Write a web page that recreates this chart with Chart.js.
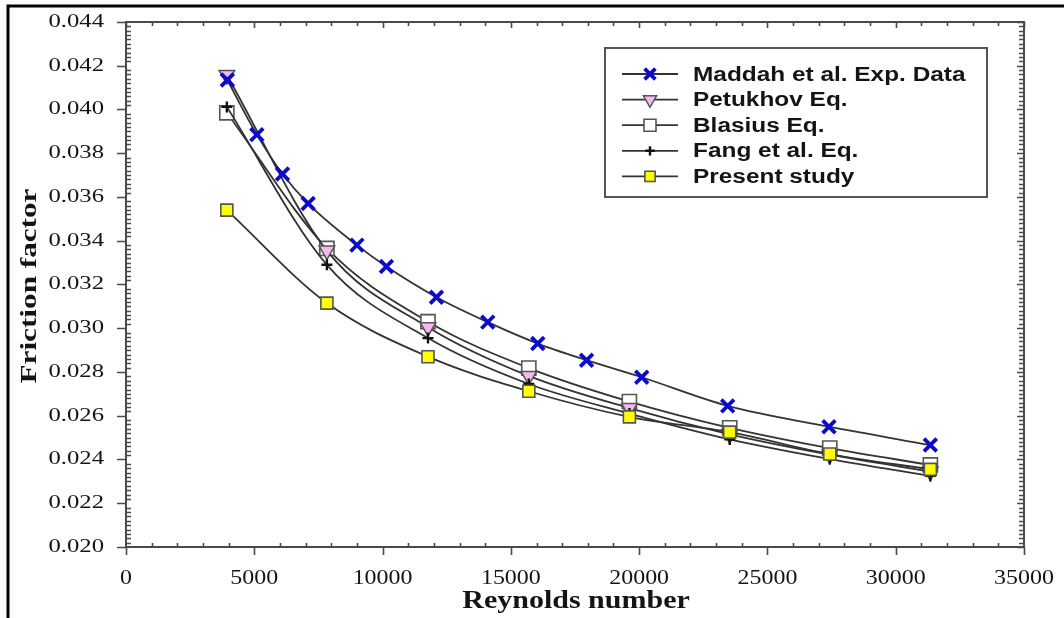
<!DOCTYPE html>
<html>
<head>
<meta charset="utf-8">
<script src="https://cdn.jsdelivr.net/npm/chart.js@4/dist/chart.umd.min.js"></script>
<style>
  html, body { margin: 0; padding: 0; background: #fff; }
  #wrap { width: 1064px; height: 618px; position: relative; }
</style>
</head>
<body>
<div id="wrap"><canvas id="c" width="1064" height="618"></canvas></div>
<script>
// ---- data ----
const reMaddah = [3950, 5100, 6100, 7100, 9000, 10150, 12100, 14100, 16050, 17950, 20100, 23450, 27400, 31350];
const fMaddah  = [0.04135, 0.03885, 0.03705, 0.03570, 0.03380, 0.03282, 0.03142, 0.03028, 0.02930, 0.02854, 0.02776, 0.02645, 0.02550, 0.02466];

const reModel   = [3930, 7830, 11770, 15700, 19620, 23530, 27430, 31350];
const fPetukhov = [0.04158, 0.03355, 0.03005, 0.02782, 0.02635, 0.02515, 0.02422, 0.02345];
const fBlasius  = [0.03985, 0.03365, 0.03030, 0.02818, 0.02665, 0.02545, 0.02452, 0.02375];
const fFang     = [0.04012, 0.03290, 0.02955, 0.02745, 0.02610, 0.02492, 0.02402, 0.02325];
const fPresent  = [0.03540, 0.03115, 0.02870, 0.02712, 0.02595, 0.02525, 0.02425, 0.02355];

const seriesNames = ["Maddah et al. Exp. Data", "Petukhov Eq.", "Blasius Eq.", "Fang et al. Eq.", "Present study"];
const xTicks = [0, 5000, 10000, 15000, 20000, 25000, 30000, 35000];
const yTicks = [0.020, 0.022, 0.024, 0.026, 0.028, 0.030, 0.032, 0.034, 0.036, 0.038, 0.040, 0.042, 0.044];
const xTitle = "Reynolds number";
const yTitle = "Friction factor";

// ---- helpers ----
const pts = (xs, ys) => xs.map((x, i) => ({ x: x, y: ys[i] }));
const LINE = '#333333';

const styles = [
  { pointStyle: 'crossRot', radius: 9, fill: '#0c0cc8', stroke: '#0c0cc8', bw: 3.8, rot: 0 },
  { pointStyle: 'triangle', radius: 9, fill: '#f6b6ee', stroke: '#555555', bw: 1.5, rot: 180 },
  { pointStyle: 'rect', radius: 10, fill: '#ffffff', stroke: '#555555', bw: 1.6, rot: 0 },
  { pointStyle: 'cross', radius: 5.5, fill: '#111111', stroke: '#111111', bw: 2.4, rot: 0 },
  { pointStyle: 'rect', radius: 8.5, fill: '#ffff00', stroke: '#555555', bw: 1.6, rot: 0 }
];
const dataSets = [pts(reMaddah, fMaddah), pts(reModel, fPetukhov), pts(reModel, fBlasius), pts(reModel, fFang), pts(reModel, fPresent)];
const orders = [0, 3, 4, 2, 1];

const datasets = dataSets.map((d, i) => ({
  label: seriesNames[i],
  data: d,
  showLine: true,
  borderColor: LINE,
  borderWidth: 1.8,
  tension: 0.4,
  cubicInterpolationMode: 'monotone',
  pointStyle: styles[i].pointStyle,
  pointRadius: styles[i].radius,
  pointRotation: styles[i].rot,
  pointBackgroundColor: styles[i].fill,
  pointBorderColor: styles[i].stroke,
  pointBorderWidth: styles[i].bw,
  order: orders[i]
}));

function txt(ctx, s, x, y, font, sx, align, baseline, rot) {
  ctx.save();
  ctx.translate(x, y);
  if (rot) ctx.rotate(rot);
  ctx.scale(sx, 1);
  ctx.font = font;
  ctx.textAlign = align;
  ctx.textBaseline = baseline;
  ctx.fillStyle = '#141414';
  ctx.fillText(s, 0, 0);
  ctx.restore();
}

function marker(ctx, st, x, y, scale) {
  const r = st.radius * scale;
  ctx.save();
  ctx.fillStyle = st.fill;
  ctx.strokeStyle = st.stroke;
  ctx.lineWidth = st.bw;
  ctx.beginPath();
  if (st.pointStyle === 'crossRot') {
    const o = r * Math.SQRT1_2;
    ctx.moveTo(x - o, y - o); ctx.lineTo(x + o, y + o);
    ctx.moveTo(x + o, y - o); ctx.lineTo(x - o, y + o);
    ctx.stroke();
  } else if (st.pointStyle === 'cross') {
    ctx.moveTo(x - r, y); ctx.lineTo(x + r, y);
    ctx.moveTo(x, y - r); ctx.lineTo(x, y + r);
    ctx.stroke();
  } else if (st.pointStyle === 'triangle') {
    const w = r * Math.sqrt(3) / 2;
    ctx.moveTo(x - w, y - r / 2); ctx.lineTo(x + w, y - r / 2); ctx.lineTo(x, y + r);
    ctx.closePath(); ctx.fill(); ctx.stroke();
  } else {
    const s = r * Math.SQRT1_2;
    ctx.rect(x - s, y - s, 2 * s, 2 * s);
    ctx.fill(); ctx.stroke();
  }
  ctx.restore();
}

const decor = {
  id: 'decor',
  beforeDraw(chart) {
    const ctx = chart.ctx;
    ctx.save();
    ctx.fillStyle = '#fff';
    ctx.fillRect(0, 0, chart.width, chart.height);
    ctx.restore();
  },
  afterDraw(chart) {
    const ctx = chart.ctx;
    const a = chart.chartArea;
    const xs = chart.scales.x, ys = chart.scales.y;
    ctx.save();
    // outer picture border (top and left)
    ctx.strokeStyle = '#000';
    ctx.lineWidth = 3;
    ctx.beginPath();
    ctx.moveTo(8, 618); ctx.lineTo(8, 6); ctx.lineTo(1064, 6);
    ctx.stroke();

    // plot frame
    ctx.strokeStyle = '#4a4a4a';
    ctx.lineWidth = 2;
    ctx.strokeRect(a.left, a.top, a.right - a.left, a.bottom - a.top);

    // ticks
    ctx.lineWidth = 1.6;
    ctx.beginPath();
    for (let v = 0; v <= 35000; v += 1000) {
      const px = Math.round(xs.getPixelForValue(v)) + 0.5;
      const major = v % 5000 === 0;
      if (major) {
        ctx.moveTo(px, a.bottom); ctx.lineTo(px, a.bottom + 8);
        ctx.moveTo(px, a.top); ctx.lineTo(px, a.top + 6);
      } else {
        ctx.moveTo(px, a.bottom); ctx.lineTo(px, a.bottom - 4);
        ctx.moveTo(px, a.top); ctx.lineTo(px, a.top + 4);
      }
    }
    for (let k = 0; k <= 120; k++) {
      const v = 0.020 + k * 0.0002;
      const py = Math.round(ys.getPixelForValue(v)) + 0.5;
      const major = k % 10 === 0;
      if (major) {
        ctx.moveTo(a.left, py); ctx.lineTo(a.left - 9, py);
        ctx.moveTo(a.right, py); ctx.lineTo(a.right - 7, py);
      } else {
        ctx.moveTo(a.left, py); ctx.lineTo(a.left + 5, py);
        ctx.moveTo(a.right, py); ctx.lineTo(a.right - 5, py);
      }
    }
    ctx.stroke();

    // tick labels
    yTicks.forEach(v => {
      txt(ctx, v.toFixed(3), 104, ys.getPixelForValue(v), '19px "Liberation Serif"', 1.3, 'right', 'middle');
    });
    xTicks.forEach(v => {
      txt(ctx, String(v), xs.getPixelForValue(v), 578, '21px "Liberation Serif"', 1.14, 'center', 'middle');
    });

    // axis titles
    txt(ctx, xTitle, 576, 602, 'bold 25px "Liberation Serif"', 1.2, 'center', 'middle');
    txt(ctx, yTitle, 30, 286, 'bold 24px "Liberation Serif"', 1.3, 'center', 'middle', -Math.PI / 2);

    // legend
    ctx.strokeStyle = '#555';
    ctx.lineWidth = 2;
    ctx.fillStyle = '#fff';
    ctx.fillRect(605, 48, 382, 149);
    ctx.strokeRect(605, 48, 382, 149);
    seriesNames.forEach((name, i) => {
      const y = 74 + i * 25.6;
      ctx.strokeStyle = LINE;
      ctx.lineWidth = 1.8;
      ctx.beginPath();
      ctx.moveTo(622, y); ctx.lineTo(678, y);
      ctx.stroke();
      marker(ctx, styles[i], 650, y, 0.85);
      txt(ctx, name, 693, y + 1, 'bold 20px "Liberation Sans"', 1.22, 'left', 'middle');
    });
    ctx.restore();
  }
};

new Chart(document.getElementById('c'), {
  type: 'scatter',
  data: { datasets: datasets },
  options: {
    responsive: false,
    animation: false,
    devicePixelRatio: 1,
    layout: { padding: { top: 22, right: 40, left: 0, bottom: 0 } },
    plugins: { legend: { display: false }, tooltip: { enabled: false } },
    scales: {
      x: {
        type: 'linear', min: 0, max: 35000,
        grid: { display: false }, border: { display: false },
        ticks: { display: false },
        afterFit: s => { s.height = 71; }
      },
      y: {
        type: 'linear', min: 0.020, max: 0.044,
        grid: { display: false }, border: { display: false },
        ticks: { display: false },
        afterFit: s => { s.width = 126; }
      }
    }
  },
  plugins: [decor]
});
</script>
</body>
</html>
